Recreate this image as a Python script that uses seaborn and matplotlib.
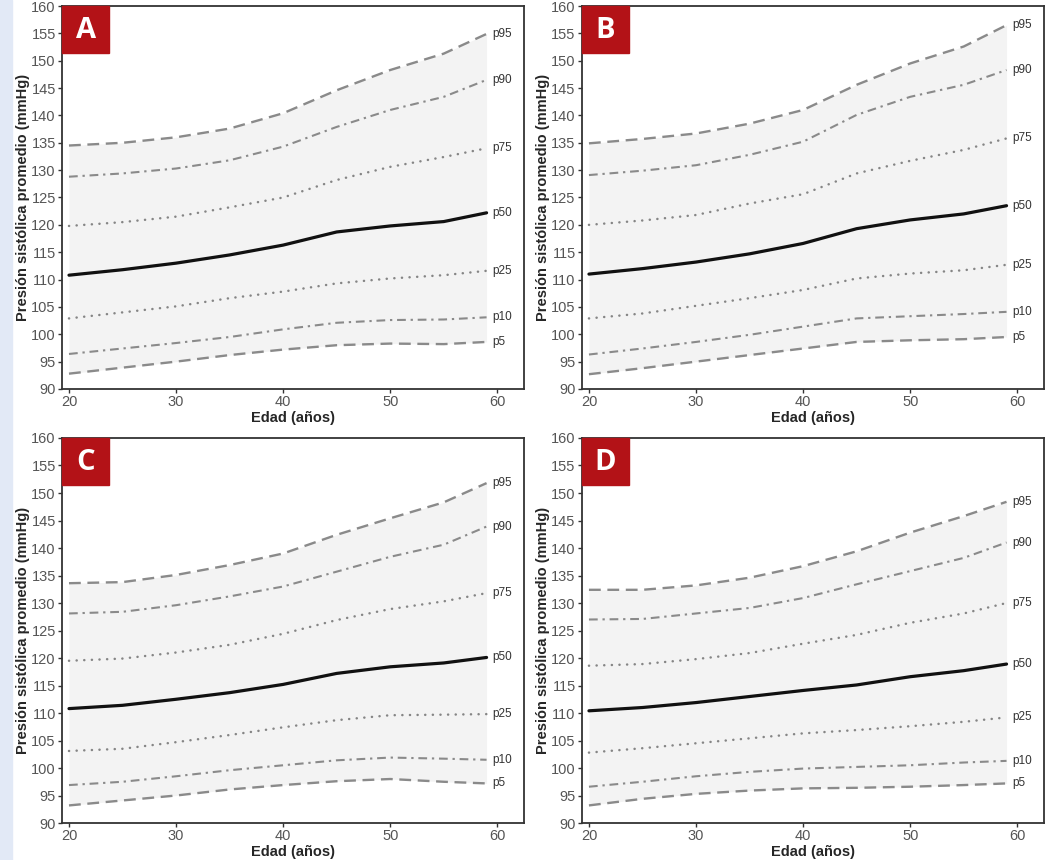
import matplotlib
matplotlib.use("Agg")
import matplotlib.pyplot as plt
import seaborn as sns
from matplotlib.patches import Rectangle

ages = [20, 25, 30, 35, 40, 45, 50, 55, 59]
pct_names = ["p95", "p90", "p75", "p50", "p25", "p10", "p5"]

# panel A
a_p95 = [134.5, 135.0, 136.0, 137.6, 140.4, 144.6, 148.3, 151.3, 154.9]
a_p90 = [128.8, 129.4, 130.3, 131.8, 134.3, 137.9, 141.0, 143.4, 146.5]
a_p75 = [119.8, 120.5, 121.5, 123.2, 125.0, 128.2, 130.6, 132.4, 134.0]
a_p50 = [110.8, 111.8, 113.0, 114.5, 116.3, 118.7, 119.8, 120.6, 122.2]
a_p25 = [102.9, 104.0, 105.1, 106.6, 107.8, 109.3, 110.2, 110.8, 111.6]
a_p10 = [96.4, 97.4, 98.4, 99.5, 100.9, 102.1, 102.6, 102.7, 103.1]
a_p5 = [92.8, 93.9, 95.0, 96.2, 97.2, 98.0, 98.3, 98.2, 98.6]

# panel B
b_p95 = [134.9, 135.7, 136.7, 138.5, 141.0, 145.6, 149.5, 152.6, 156.5]
b_p90 = [129.1, 129.9, 130.9, 132.8, 135.2, 140.1, 143.4, 145.6, 148.3]
b_p75 = [120.0, 120.8, 121.8, 123.9, 125.6, 129.4, 131.7, 133.7, 135.8]
b_p50 = [111.0, 112.0, 113.2, 114.7, 116.6, 119.3, 120.9, 122.0, 123.5]
b_p25 = [102.9, 103.8, 105.2, 106.6, 108.1, 110.2, 111.1, 111.7, 112.7]
b_p10 = [96.3, 97.4, 98.6, 99.9, 101.4, 102.9, 103.3, 103.7, 104.1]
b_p5 = [92.7, 93.8, 95.0, 96.2, 97.4, 98.6, 98.9, 99.1, 99.5]

# panel C
c_p95 = [133.6, 133.8, 135.1, 136.9, 139.0, 142.4, 145.4, 148.3, 151.8]
c_p90 = [128.1, 128.4, 129.6, 131.2, 133.0, 135.7, 138.4, 140.6, 143.9]
c_p75 = [119.5, 119.9, 121.0, 122.4, 124.4, 126.9, 128.9, 130.3, 131.8]
c_p50 = [110.8, 111.4, 112.5, 113.7, 115.2, 117.2, 118.4, 119.1, 120.1]
c_p25 = [103.1, 103.5, 104.7, 106.0, 107.4, 108.7, 109.6, 109.7, 109.8]
c_p10 = [96.9, 97.5, 98.5, 99.6, 100.5, 101.4, 101.9, 101.7, 101.5]
c_p5 = [93.2, 94.1, 95.0, 96.1, 96.9, 97.6, 98.0, 97.5, 97.2]

# panel D
d_p95 = [132.4, 132.4, 133.2, 134.6, 136.7, 139.4, 142.8, 145.8, 148.4]
d_p90 = [127.0, 127.1, 128.1, 129.1, 130.9, 133.4, 135.8, 138.2, 141.0]
d_p75 = [118.6, 118.9, 119.8, 120.9, 122.6, 124.2, 126.4, 128.1, 130.0]
d_p50 = [110.4, 111.0, 111.9, 113.0, 114.1, 115.1, 116.6, 117.7, 118.9]
d_p25 = [102.8, 103.6, 104.5, 105.4, 106.3, 106.9, 107.6, 108.4, 109.2]
d_p10 = [96.6, 97.5, 98.5, 99.3, 99.9, 100.2, 100.5, 101.0, 101.3]
d_p5 = [93.2, 94.4, 95.3, 95.9, 96.3, 96.4, 96.6, 96.9, 97.2]

panels = {
    "A": [a_p95, a_p90, a_p75, a_p50, a_p25, a_p10, a_p5],
    "B": [b_p95, b_p90, b_p75, b_p50, b_p25, b_p10, b_p5],
    "C": [c_p95, c_p90, c_p75, c_p50, c_p25, c_p10, c_p5],
    "D": [d_p95, d_p90, d_p75, d_p50, d_p25, d_p10, d_p5],
}

styles = {
    "p95": dict(color="#8a8a8a", lw=1.7, dashes=(5, 2.8)),
    "p90": dict(color="#8a8a8a", lw=1.5, dashes=(4.2, 2.3, 1.1, 2.3)),
    "p75": dict(color="#858585", lw=1.8, dashes=(0.05, 3.0)),
    "p50": dict(color="#111111", lw=2.3, dashes=()),
    "p25": dict(color="#858585", lw=1.8, dashes=(0.05, 3.0)),
    "p10": dict(color="#8a8a8a", lw=1.5, dashes=(4.2, 2.3, 1.1, 2.3)),
    "p5": dict(color="#8a8a8a", lw=1.7, dashes=(5, 2.8)),
}

sns.set_style("white")
plt.rcParams["font.family"] = ["Liberation Sans", "DejaVu Sans"]

fig = plt.figure(figsize=(10.46, 8.6), dpi=100)
fig.patches.append(Rectangle((0, 0), 12 / 1046, 1, transform=fig.transFigure,
                             color="#e2e9f6", zorder=-5))

positions = {
    "A": [0.0593, 0.5477, 0.4417, 0.4453],
    "B": [0.5564, 0.5477, 0.4417, 0.4453],
    "C": [0.0593, 0.0430, 0.4417, 0.4477],
    "D": [0.5564, 0.0430, 0.4417, 0.4477],
}

for name, series in panels.items():
    ax = fig.add_axes(positions[name])
    ax.fill_between(ages, series[-1], series[0], color="#f3f3f3", lw=0, zorder=1)
    for pname, vals in zip(pct_names, series):
        st = styles[pname]
        sns.lineplot(x=ages, y=vals, ax=ax, color=st["color"], lw=st["lw"], zorder=3)
        ln = ax.lines[-1]
        if st["dashes"]:
            ln.set_dashes(st["dashes"])
        ln.set_dash_capstyle("round" if pname in ("p75", "p25") else "butt")
        ax.text(ages[-1] + 0.5, vals[-1], pname, fontsize=8.5, color="#333333",
                ha="left", va="center")
    ax.set_xlim(19.35, 62.5)
    ax.set_ylim(90, 160)
    ax.set_xticks([20, 30, 40, 50, 60])
    ax.set_yticks(range(90, 161, 5))
    ax.tick_params(axis="both", which="major", length=3, width=1, color="#333333",
                   labelcolor="#555555", labelsize=10.5, pad=1.5, left=True, bottom=True)
    for sp in ax.spines.values():
        sp.set_color("#333333")
        sp.set_linewidth(1.3)
    ax.set_xlabel("Edad (años)", fontsize=10.5, fontweight="bold", labelpad=1)
    ax.set_ylabel("Presión sistólica promedio (mmHg)", fontsize=10.5, fontweight="bold",
                  labelpad=1)
    ax.add_patch(Rectangle((0, 0.877), 0.102, 0.123, transform=ax.transAxes,
                           color="#b31217", zorder=5, clip_on=False))
    ax.text(0.051, 0.936, name, transform=ax.transAxes, ha="center", va="center",
            color="white", fontsize=21, fontweight="bold", family=["Open Sans", "DejaVu Sans"],
            zorder=6)

fig.savefig("out.png", dpi=100)
